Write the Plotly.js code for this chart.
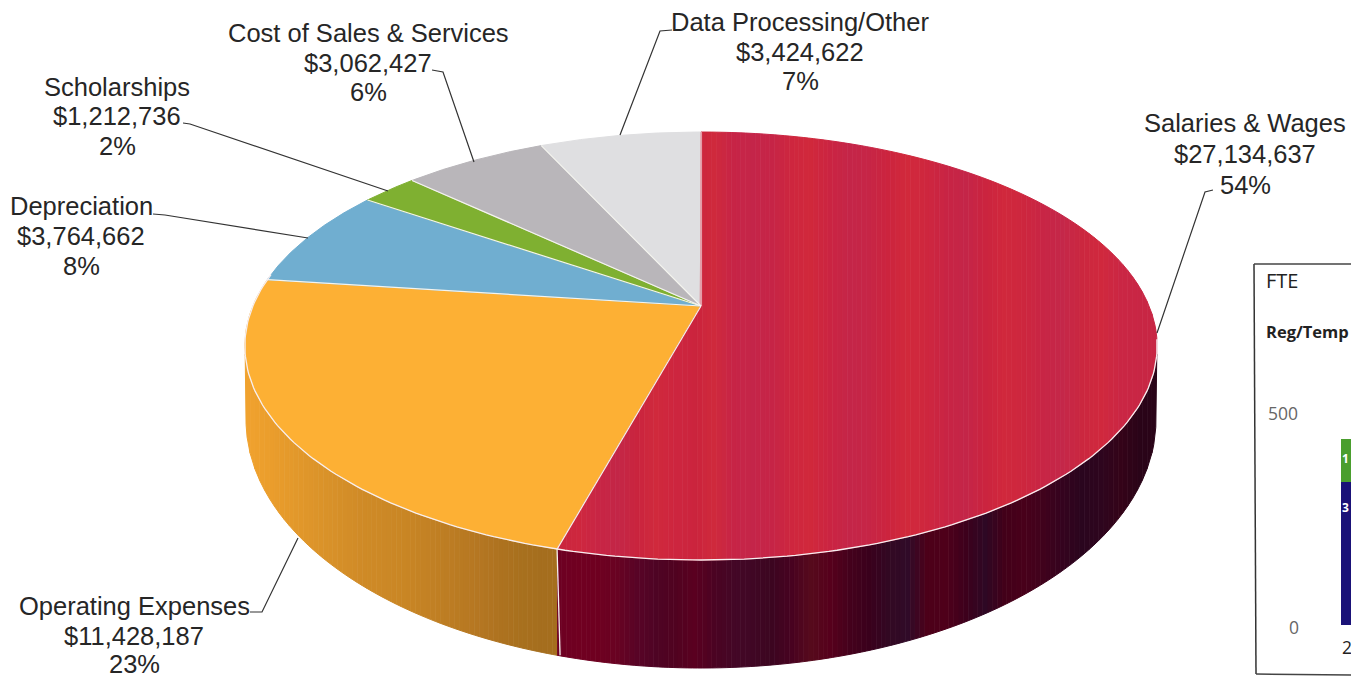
<!DOCTYPE html>
<html><head><meta charset="utf-8">
<script src="https://cdn.plot.ly/plotly-3.0.1.min.js"></script>
<style>html,body{margin:0;padding:0;background:#fff;overflow:hidden}#c{width:1351px;height:678px}</style>
</head><body><div id="c"></div>
<script>
// Pie data (clockwise from 12 o'clock)
const categories = ["Salaries & Wages","Operating Expenses","Depreciation","Scholarships","Cost of Sales & Services","Data Processing/Other"];
const values = [27134637,11428187,3764662,1212736,3062427,3424622];
const percents = [54,23,8,2,6,7];
const topColors = ["#c9243f","#fdb034","#70aed0","#7fb031","#b9b6ba","#dfdfe1"];
// FTE inset
const fteYears = [2020];
const fteRegular = [335];
const fteTemp = [101];
// Label placement: center x and the centre y of each of the three lines
const labelX = [1245,134,81,117,368,800];
const labelY = [[123,154,185],[606,636,664],[206,236,266],[87,116,146],[33,63,92],[22,52,81]];
const leaders = [
  [[1213,190],[1205,192],[1157,333]],
  [[250,612],[262,612],[298,538]],
  [[153,214],[165,215],[308,238]],
  [[183,123],[190,124],[388,191]],
  [[432,70],[443,72],[474,162]],
  [[672,30],[660,31],[620,135]]
];
// Scanned colour banding, left to right across each surface
const redTopBands = ["#ca253d","#ce273e","#c82544","#c32647","#c9243e","#d0293c","#cd253f","#cb243d","#cf293c","#c72446","#c42549","#c62446","#ce263e","#d0283b","#ca2442","#c42548","#c62546","#cc243e","#d1293b","#ce263e","#c82444","#c42548","#cb243f","#d0283c","#cd263e","#c82545","#c42749","#cb273f","#d0283d","#ca2644","#c82644"];
const redSideBands = ["#6d0022","#700021","#6e0020","#680222","#580426","#4e0424","#500220","#5a0020","#4b0322","#440726","#400724","#3c0520","#480220","#560a1c","#56001c","#44011c","#3a001c","#320822","#300a28","#4c0019","#4e001a","#3d001c","#2e0824","#420019","#48001a","#40021c","#34031e","#2a051e","#2e051e","#340318","#2a0418"];
const orangeSideBands = ["#f0a22e","#eb9e2c","#e59a2b","#df962a","#d99229","#d48e28","#cf8a26","#cc8826","#c98624","#c48224","#be7e23","#b97a22","#b47622","#ad721f","#a8701e","#a56e1e"];

// Projection of the tilted disc onto the page
const cx=701, apexY=306, A=448.1, B=206.5, k=0.187;
const sideCy=420, sideRx=455, sideRy=248;
const total = values.reduce((a,b)=>a+b,0);
const proj = t => {const u=Math.sin(t),v=Math.cos(t),w=1+k*v;return [cx+A*u/w, apexY-B*v/w];};
function edgeY(x,upper){
  const p=(x-cx)/A, a=p*p*k*k+1, b=2*p*p*k, c=p*p-1;
  const d=Math.sqrt(Math.max(0,b*b-4*a*c));
  const v=(-b+(upper?d:-d))/(2*a);
  return apexY-B*v/(1+k*v);
}
function sideY(x){
  const t=(x-cx)/sideRx;
  const base=edgeY(x,false);
  if(Math.abs(t)>=1) return base;
  return Math.max(base, sideCy+sideRy*Math.sqrt(1-t*t));
}
const angles=[0]; values.forEach((v,i)=>angles.push(angles[i]+2*Math.PI*v/total));
const xEnd=proj(angles[1])[0], yEnd=proj(angles[1])[1];
const xMin=245.2, xMax=1156.8;
const traces=[];
function poly(xs,ys,color){
  traces.push({type:'scatter',mode:'lines',x:xs,y:ys,fill:'toself',fillcolor:color,
    line:{color:color,width:1},hoverinfo:'skip',showlegend:false});
}
function strip(x0,x1,topFn,botFn,color){
  const xs=[],ys=[];
  for(let x=x0;x<x1;x+=1){xs.push(x);ys.push(topFn(x));}
  xs.push(x1);ys.push(topFn(x1));
  for(let x=x1;x>x0;x-=1){xs.push(x);ys.push(botFn(x));}
  xs.push(x0);ys.push(botFn(x0));
  poly(xs,ys,color);
}
const hex=c=>[1,3,5].map(i=>parseInt(c.substr(i,2),16));
function mix(a,b,t){const p=hex(a),q=hex(b);return 'rgb('+p.map((v,i)=>Math.round(v+(q[i]-v)*t)).join(',')+')';}
// paint a surface between x0 and x1 with soft transitions between the colour bands
function bands(list,x0,x1,sub,paint){
  const w=(x1-x0)/list.length;
  list.forEach((c,i)=>{
    const n=list[Math.min(i+1,list.length-1)];
    for(let s=0;s<sub;s++){
      paint(x0+(i+s/sub)*w,x0+(i+(s+1)/sub)*w,mix(c,n,s/sub));
    }
  });
}
const under=x=>edgeY(x,false);
// side wall
bands(orangeSideBands,xMin,xEnd,4,(a,b,c)=>strip(a,b,under,sideY,c));
bands(redSideBands,xEnd,xMax,4,(a,b,c)=>strip(a,b,under,sideY,c));
// top face: smaller slices
for(let i=1;i<values.length;i++){
  const xs=[cx],ys=[apexY];
  for(let j=0;j<=80;j++){const p=proj(angles[i]+(angles[i+1]-angles[i])*j/80);xs.push(p[0]);ys.push(p[1]);}
  xs.push(cx);ys.push(apexY);
  poly(xs,ys,topColors[i]);
}
// top face: large slice in vertical bands
const redUpper=x=> x>=cx ? edgeY(x,true) : apexY+(yEnd-apexY)*(cx-x)/(cx-xEnd);
bands(redTopBands,xEnd,xMax,4,(x0,x1,c)=>{
  if(x0<cx&&x1>cx){
    strip(x0,cx,redUpper,under,c);
    strip(cx,x1,redUpper,under,c);
  } else strip(x0,x1,redUpper,under,c);
});
// white seams
function seam(xs,ys,color,width){traces.push({type:'scatter',mode:'lines',x:xs,y:ys,line:{color:color,width:width},hoverinfo:'skip',showlegend:false});}
for(let i=0;i<values.length;i++){
  const p=proj(angles[i]);
  seam([cx,p[0]],[apexY,p[1]],i===0?'#f3eef0':'#f4f4ee',1.2);
}
{
  const xs=[],ys=[];
  for(let j=0;j<=200;j++){const t=Math.PI*0.55+(Math.PI*1.0)*j/200;const p=proj(t);xs.push(p[0]);ys.push(p[1]);}
  seam(xs,ys,'#f6eef0',1.3);
  seam([xEnd,xEnd+3],[yEnd,sideY(xEnd)],'#f6f0f0',1.3);
}
// leaders
leaders.forEach(l=>seam(l.map(p=>p[0]),l.map(p=>p[1]),'#333333',1.2));
// FTE inset bars
traces.push({type:'bar',x:fteYears,y:fteRegular,width:1,xaxis:'x2',yaxis:'y2',marker:{color:'#1a1278'},hoverinfo:'skip',showlegend:false});
traces.push({type:'bar',x:fteYears,y:fteTemp,width:1,xaxis:'x2',yaxis:'y2',marker:{color:'#4a9e2e'},hoverinfo:'skip',showlegend:false});

const money=v=>'$'+v.toString().replace(/\B(?=(\d{3})+$)/g,',');
const font={family:'"Liberation Sans",Arial,sans-serif',size:25.5,color:'#262626'};
const annotations=[];
categories.forEach((c,i)=>{
  [c,money(values[i]),percents[i]+'%'].forEach((t,j)=>{
    annotations.push({xref:'x',yref:'y',x:labelX[i],y:labelY[i][j],xanchor:'center',yanchor:'middle',showarrow:false,
      text:t,font:font,borderpad:0});
  });
});
const note=(t,x,y,size,color,anchor)=>({xref:'x',yref:'y',x:x,y:y,xanchor:anchor||'left',yanchor:'middle',showarrow:false,text:t,borderpad:0,
  font:{family:'"Open Sans",sans-serif',size:size,color:color}});
annotations.push(note('FTE',1265,280,20,'#222'));
annotations.push(note('<b>Reg/Temp</b>',1265,331,16.5,'#222'));
annotations.push(note('500',1283,413,17.5,'#666','center'));
annotations.push(note('0',1294,627,17.5,'#666','center'));
annotations.push(note('2',1341,647,17.5,'#222'));
annotations.push(note('<b>3</b>',1341,507,12,'#fff'));
annotations.push(note('<b>1</b>',1341,458,12,'#fff'));

const H=678,W=1351;
const pxPerYear=118;
const layout={
  width:W,height:H,margin:{l:0,r:0,t:0,b:0},paper_bgcolor:'#fff',plot_bgcolor:'rgba(0,0,0,0)',
  showlegend:false,barmode:'stack',
  xaxis:{range:[0,W],visible:false,domain:[0,1],fixedrange:true},
  yaxis:{range:[H,0],visible:false,domain:[0,1],fixedrange:true},
  xaxis2:{domain:[1255/W,1],range:[2019.5-86/pxPerYear,2019.5+10/pxPerYear],visible:false,anchor:'y2',fixedrange:true},
  yaxis2:{domain:[(H-625)/H,(H-412)/H],range:[0,500],visible:false,anchor:'x2',fixedrange:true},
  annotations:annotations,
  shapes:[
    {type:'line',xref:'x',yref:'y',x0:1254,y0:264,x1:1256,y1:674,line:{color:'#333',width:1.5}},
    {type:'line',xref:'x',yref:'y',x0:1254,y0:264,x1:1351,y1:264,line:{color:'#444',width:1.5}},
    {type:'line',xref:'x',yref:'y',x0:1256,y0:674,x1:1351,y1:675,line:{color:'#444',width:1.5}}
  ]
};
Plotly.newPlot('c',traces,layout,{displayModeBar:false,staticPlot:true});
</script></body></html>
